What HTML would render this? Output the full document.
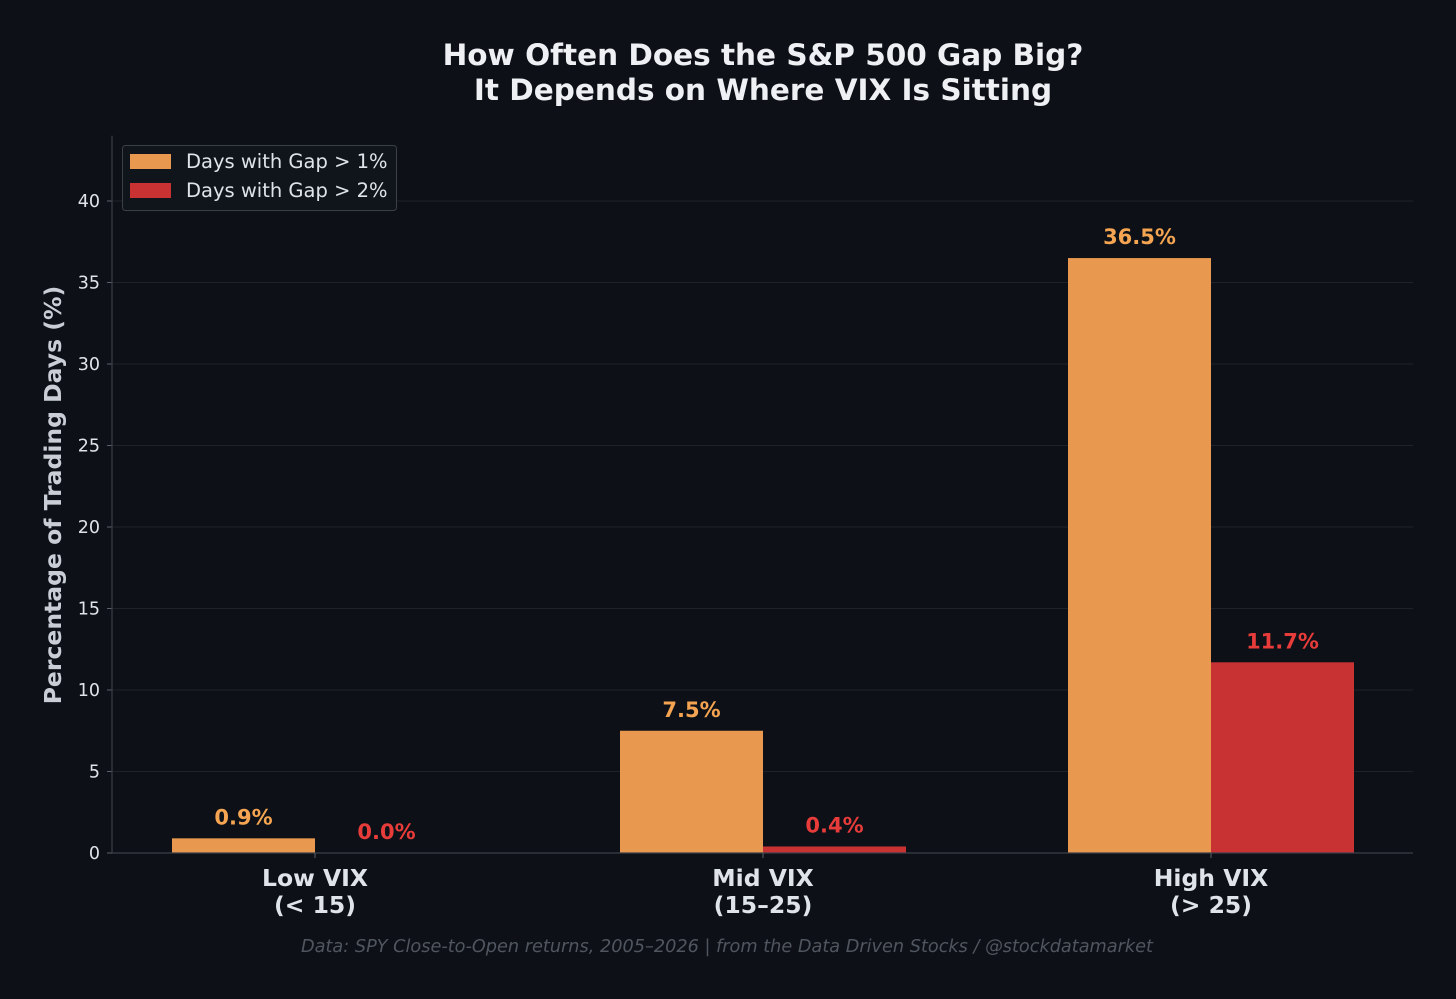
<!DOCTYPE html>
<html><head><meta charset="utf-8"><style>
html,body{margin:0;padding:0;background:#0d1017;}
svg{display:block;font-family:"DejaVu Sans","Liberation Sans",sans-serif;}
</style></head><body>
<svg id="chart" width="1456" height="999" viewBox="0 0 1456 999">
<rect width="1456" height="999" fill="#0d1017"/>
<text x="763" y="65" text-anchor="middle" font-size="29.5" font-weight="bold" fill="#eef0f4">How Often Does the S&amp;P 500 Gap Big?</text>
<text x="763" y="100" text-anchor="middle" font-size="29.5" font-weight="bold" fill="#eef0f4">It Depends on Where VIX Is Sitting</text>
<g id="grid"></g>
<g id="bars"></g>
<g id="axes"></g>
<text transform="translate(61,495) rotate(-90)" text-anchor="middle" font-size="23.5" font-weight="bold" fill="#c8cdd6">Percentage of Trading Days (%)</text>
<text x="727" y="952" text-anchor="middle" font-size="17.7" font-style="italic" fill="#50565f">Data: SPY Close-to-Open returns, 2005–2026 | from the Data Driven Stocks / @stockdatamarket</text>
<g>
<rect x="122.5" y="145.5" width="274" height="65" rx="3" fill="#10141b" stroke="#3a3f48"/>
<rect x="130" y="154" width="41" height="15" fill="#e8994f"/>
<text x="186" y="168" font-size="19.5" fill="#dfe3ea">Days with Gap &gt; 1%</text>
<rect x="130" y="183" width="41" height="15" fill="#c83232"/>
<text x="186" y="197" font-size="19.5" fill="#dfe3ea">Days with Gap &gt; 2%</text>
</g>
</svg>
<script>
const categories=["Low VIX","Mid VIX","High VIX"];
const categorySub=["(< 15)","(15–25)","(> 25)"];
const gap1Values=[0.9,7.5,36.5];
const gap2Values=[0.0,0.4,11.7];
const yTicks=[0,5,10,15,20,25,30,35,40];
const NS="http://www.w3.org/2000/svg";
const X0=112,X1=1413,Y0=853,YMAX=44,PXU=16.3;
const y=v=>Y0-v*PXU;
const cx=i=>315+i*448;
const BW=143;
function mk(tag,attrs,parent,txt){const e=document.createElementNS(NS,tag);for(const k in attrs)e.setAttribute(k,attrs[k]);if(txt!==undefined)e.textContent=txt;parent.appendChild(e);return e;}
const grid=document.getElementById('grid'),bars=document.getElementById('bars'),axes=document.getElementById('axes');
yTicks.forEach(t=>{
  if(t>0){const g=mk('line',{x1:X0,x2:X1,y1:y(t),y2:y(t),stroke:'#1e222a','stroke-width':1},grid);
  
  }
  const tk=mk('line',{x1:X0-5,x2:X0,y1:y(t),y2:y(t),stroke:'#5a606a'},axes);
  
  
  const l=mk('text',{x:X0-12,y:y(t)+6,'text-anchor':'end','font-size':17.5,fill:'#dfe3ea'},axes,String(t));
  
  
});
const ya=mk('line',{x1:X0,x2:X0,y1:y(YMAX),y2:Y0,stroke:'#3a3f48','stroke-width':1.2},axes);


const xa=mk('line',{x1:X0,x2:X1,y1:Y0,y2:Y0,stroke:'#3a3f48','stroke-width':1.2},axes);


categories.forEach((c,i)=>{
  const c0=cx(i);
  const b1=mk('rect',{x:c0-BW,y:y(gap1Values[i]),width:BW,height:gap1Values[i]*PXU,fill:'#e8994f'},bars);
  
  
  const b2=mk('rect',{x:c0,y:y(gap2Values[i]),width:BW,height:gap2Values[i]*PXU,fill:'#c83232'},bars);
  
  
  const l1=mk('text',{x:c0-BW/2,y:y(gap1Values[i])-14,'text-anchor':'middle','font-size':21,'font-weight':'bold',fill:'#f5a552'},bars,gap1Values[i].toFixed(1)+'%');
  
  
  const l2=mk('text',{x:c0+BW/2,y:y(gap2Values[i])-14,'text-anchor':'middle','font-size':21,'font-weight':'bold',fill:'#e83c3a'},bars,gap2Values[i].toFixed(1)+'%');
  
  
  const tk=mk('line',{x1:c0,x2:c0,y1:Y0,y2:Y0+5,stroke:'#5a606a'},axes);
  
  
  const t1=mk('text',{x:c0,y:886,'text-anchor':'middle','font-size':23.5,'font-weight':'bold',fill:'#dfe3ea'},axes,c);
  
  
  const t2=mk('text',{x:c0,y:913,'text-anchor':'middle','font-size':23.5,'font-weight':'bold',fill:'#dfe3ea'},axes,categorySub[i]);
  
  
});
</script>
</body></html>
